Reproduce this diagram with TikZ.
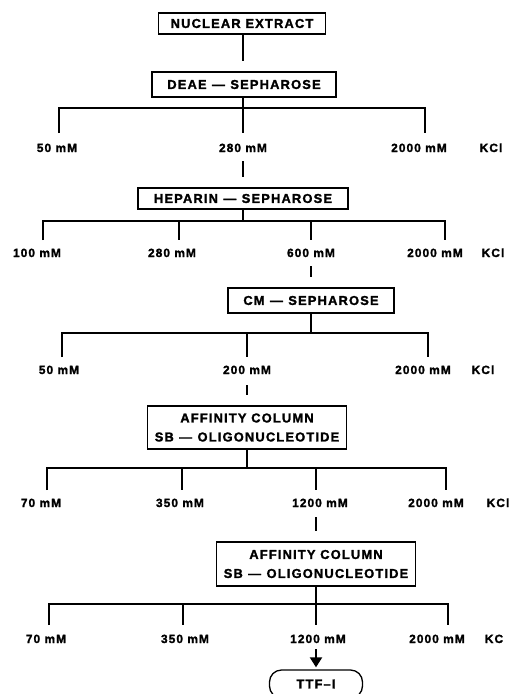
\documentclass[tikz,border=0pt]{standalone}
\usepackage{fontspec}
\setmainfont{Liberation Sans}[LetterSpace=9, FakeBold=1.6]
\usetikzlibrary{arrows.meta,calc}
\newcommand{\dsh}{\hspace{0.42em}—\hspace{0.42em}}
\begin{document}
\begin{tikzpicture}[x=1pt,y=-1pt,
  box/.style={draw, line width=1.3pt, inner sep=0pt, align=center,
    font=\bfseries\fontsize{12.9}{19}\selectfont},
  lbl/.style={inner sep=0pt, text height=8pt, text depth=0pt,
    font=\bfseries\fontsize{11.9}{13}\selectfont},
  ln/.style={line width=1.2pt},
  bus/.style={line width=1.4pt},
  arr/.style={line width=2.2pt, -{Triangle[width=12pt,length=10pt]}}
]
\useasboundingbox (0,0) rectangle (510,694);
\clip (0,0) rectangle (510,694);

% ---- boxes
\node[box, minimum width=167pt, minimum height=21pt] (ne) at (242,23.5) {NUCLEAR EXTRACT};
\node[box, minimum width=184pt, minimum height=25pt] (deae) at (244,84.5) {DEAE\dsh SEPHAROSE};
\node[box, minimum width=210pt, minimum height=21pt] (hep) at (243,198.5) {HEPARIN\dsh SEPHAROSE};
\node[box, minimum width=166pt, minimum height=25pt] (cm) at (311,300.5) {CM\dsh SEPHAROSE};
\node[box, minimum width=199pt, minimum height=43pt] (aff1) at (247,427.5) {AFFINITY COLUMN\\SB\dsh OLIGONUCLEOTIDE};
\node[box, minimum width=199pt, minimum height=44pt] (aff2) at (316,564) {AFFINITY COLUMN\\SB\dsh OLIGONUCLEOTIDE};
\node[box, rounded corners=12pt, minimum width=93pt, minimum height=28pt] (ttf) at (316,684) {TTF–I};

% ---- row 1
\coordinate (b1a) at (59,108);  \coordinate (b1b) at (243,108); \coordinate (b1c) at (425,108);
\coordinate (t1a) at (59,133);  \coordinate (t1b) at (243,133); \coordinate (t1c) at (425,133);
\node[lbl] (l11) at (57,148) {50 mM};
\node[lbl] (l12) at (243,148) {280 mM};
\node[lbl] (l13) at (419,148) {2000 mM};
\node[lbl] (k1) at (491,148) {KCl};

% ---- row 2
\coordinate (b2a) at (43,221);  \coordinate (b2b) at (179,221); \coordinate (b2c) at (311,221); \coordinate (b2d) at (445,221);
\coordinate (t2a) at (43,240);  \coordinate (t2b) at (179,240); \coordinate (t2c) at (311,240); \coordinate (t2d) at (445,240);
\node[lbl] (l21) at (37,253) {100 mM};
\node[lbl] (l22) at (172,253) {280 mM};
\node[lbl] (l23) at (311,253) {600 mM};
\node[lbl] (l24) at (435,253) {2000 mM};
\node[lbl] (k2) at (493,253) {KCl};

% ---- row 3
\coordinate (b3a) at (62,333);  \coordinate (b3b) at (247,333); \coordinate (b3c) at (428,333);
\coordinate (t3a) at (62,357);  \coordinate (t3b) at (247,357); \coordinate (t3c) at (428,357);
\node[lbl] (l31) at (59,370) {50 mM};
\node[lbl] (l32) at (247,370) {200 mM};
\node[lbl] (l33) at (423,370) {2000 mM};
\node[lbl] (k3) at (483,370) {KCl};

% ---- row 4
\coordinate (b4a) at (47,468);  \coordinate (b4b) at (182,468); \coordinate (b4c) at (316,468); \coordinate (b4d) at (446,468);
\coordinate (t4a) at (47,490);  \coordinate (t4b) at (182,490); \coordinate (t4c) at (316,490); \coordinate (t4d) at (446,490);
\node[lbl] (l41) at (41,503) {70 mM};
\node[lbl] (l42) at (180,503) {350 mM};
\node[lbl] (l43) at (320,503) {1200 mM};
\node[lbl] (l44) at (436,503) {2000 mM};
\node[lbl] (k4) at (498,503) {KCl};

% ---- row 5
\coordinate (b5a) at (49,604);  \coordinate (b5b) at (183,604); \coordinate (b5c) at (316,604); \coordinate (b5d) at (448,604);
\coordinate (t5a) at (49,625);  \coordinate (t5b) at (183,625); \coordinate (t5c) at (316,625); \coordinate (t5d) at (448,625);
\node[lbl] (l51) at (46,639) {70 mM};
\node[lbl] (l52) at (185,639) {350 mM};
\node[lbl] (l53) at (318,639) {1200 mM};
\node[lbl] (l54) at (437,639) {2000 mM};
\node[lbl] (k5) at (494,639) {KC};

% ---- connectors
\draw[ln] (ne.south -| b1b) -- ($(deae.north -| b1b)+(0,-10)$);
\draw[ln] (deae.south -| b1b) -- (b1b);
\draw[bus] (t1a) -- (b1a) -- (b1c) -- (t1c);
\draw[ln] (b1b) -- (t1b);
\draw[ln] ($(l12.south -| hep.north)+(0,9)$) -- ($(hep.north)+(0,-10)$);

\draw[ln] (hep.south) -- (hep.south |- b2a);
\draw[bus] (t2a) -- (b2a) -- (b2d) -- (t2d);
\draw[ln] (b2b) -- (t2b);
\draw[ln] (b2c) -- (t2c);
\draw[ln] ($(l23.south -| cm.north)+(0,9)$) -- ($(cm.north)+(0,-10)$);

\draw[ln] (cm.south) -- (cm.south |- b3a);
\draw[bus] (t3a) -- (b3a) -- (b3c) -- (t3c);
\draw[ln] (b3b) -- (t3b);
\draw[ln] ($(l32.south -| aff1.north)+(0,11)$) -- ($(aff1.north)+(0,-10)$);

\draw[ln] (aff1.south) -- (aff1.south |- b4a);
\draw[bus] (t4a) -- (b4a) -- (b4d) -- (t4d);
\draw[ln] (b4b) -- (t4b);
\draw[ln] (b4c) -- (t4c);
\draw[ln] ($(l43.south -| aff2.north)+(0,10)$) -- ($(aff2.north)+(0,-10)$);

\draw[ln] (aff2.south) -- (aff2.south |- b5a);
\draw[bus] (t5a) -- (b5a) -- (b5d) -- (t5d);
\draw[ln] (b5b) -- (t5b);
\draw[ln] (b5c) -- (t5c);
\draw[arr] ($(l53.south -| ttf.north)+(0,6)$) -- ($(ttf.north)+(0,-2)$);
\end{tikzpicture}
\end{document}
